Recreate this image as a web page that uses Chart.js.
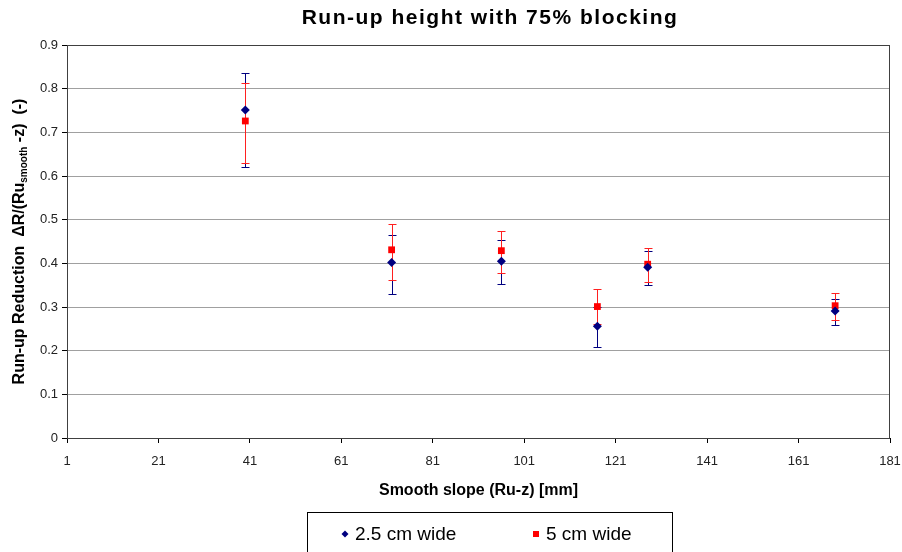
<!DOCTYPE html>
<html>
<head>
<meta charset="utf-8">
<script src="https://cdn.jsdelivr.net/npm/chart.js@4"></script>
<style>
  html, body { margin: 0; padding: 0; background: #fff; }
  #wrap { width: 902px; height: 552px; }
</style>
</head>
<body>
<div id="wrap"><canvas id="c" width="902" height="552"></canvas></div>
<script>
// ---- data ----
const titleText = "Run-up height with 75% blocking";
const xTitle = "Smooth slope (Ru-z) [mm]";
const seriesNames = ["2.5 cm wide", "5 cm wide"];
const xValues = [40, 72, 96, 117, 128, 169];
const blueY    = [0.751, 0.402, 0.405, 0.256, 0.391, 0.291];
const blueHigh = [0.835, 0.466, 0.453, 0.300, 0.428, 0.319];
const blueLow  = [0.621, 0.330, 0.353, 0.209, 0.350, 0.258];
const redY     = [0.726, 0.431, 0.429, 0.301, 0.398, 0.303];
const redHigh  = [0.812, 0.491, 0.473, 0.341, 0.435, 0.331];
const redLow   = [0.630, 0.362, 0.377, 0.261, 0.358, 0.270];
const xTicks = [1, 21, 41, 61, 81, 101, 121, 141, 161, 181];
const yTicks = [0, 0.1, 0.2, 0.3, 0.4, 0.5, 0.6, 0.7, 0.8, 0.9];
const yTickLabels = ["0", "0.1", "0.2", "0.3", "0.4", "0.5", "0.6", "0.7", "0.8", "0.9"];

const FONT = "'Liberation Sans', Arial, sans-serif";
const BLUE = "#000080";
const RED = "#ff0000";

function pts(xs, ys) { return xs.map((x, i) => ({ x: x, y: ys[i] })); }

const errorBars = {
  id: 'errorBars',
  beforeDatasetsDraw(chart) {
    const ctx = chart.ctx;
    const xs = chart.scales.x, ys = chart.scales.y;
    chart.data.datasets.forEach((ds) => {
      ctx.save();
      ctx.strokeStyle = ds.errColor;
      ctx.lineWidth = 1;
      ds.data.forEach((p, i) => {
        const px = Math.round(xs.getPixelForValue(p.x)) + 0.5;
        const yt = Math.round(ys.getPixelForValue(ds.errHigh[i])) + 0.5;
        const yb = Math.round(ys.getPixelForValue(ds.errLow[i])) + 0.5;
        ctx.beginPath();
        ctx.moveTo(px, yt); ctx.lineTo(px, yb);
        ctx.moveTo(px - 4, yt); ctx.lineTo(px + 4, yt);
        ctx.moveTo(px - 4, yb); ctx.lineTo(px + 4, yb);
        ctx.stroke();
      });
      ctx.restore();
    });
  }
};

const decor = {
  id: 'decor',
  beforeDraw(chart) {
    const ctx = chart.ctx;
    ctx.save();
    ctx.fillStyle = '#fff';
    ctx.fillRect(0, 0, chart.width, chart.height);
    ctx.restore();
  },
  afterDraw(chart) {
    const ctx = chart.ctx;
    const a = chart.chartArea;
    ctx.save();
    // plot border
    ctx.strokeStyle = '#404040';
    ctx.lineWidth = 1;
    ctx.strokeRect(Math.round(a.left) + 0.5, Math.round(a.top) + 0.5,
                   Math.round(a.right - a.left) - 1, Math.round(a.bottom - a.top));
    // title
    ctx.fillStyle = '#000';
    ctx.font = "bold 21px " + FONT;
    try { ctx.letterSpacing = '1.5px'; } catch (e) {}
    ctx.textAlign = 'center';
    ctx.textBaseline = 'middle';
    ctx.fillText(titleText, 490, 18);
    try { ctx.letterSpacing = '0px'; } catch (e) {}
    // y axis title with subscript
    const parts = [
      { t: "Run-up Reduction  \u0394R/(Ru", f: "bold 16px " + FONT, dy: 0 },
      { t: "smooth", f: "bold 10px " + FONT, dy: 4 },
      { t: " -z)  (-)", f: "bold 16px " + FONT, dy: 0 }
    ];
    let total = 0;
    parts.forEach(p => { ctx.font = p.f; p.w = ctx.measureText(p.t).width; total += p.w; });
    ctx.translate(20, (a.top + a.bottom) / 2);
    ctx.rotate(-Math.PI / 2);
    ctx.textAlign = 'left';
    ctx.textBaseline = 'middle';
    let cx = -total / 2;
    parts.forEach(p => { ctx.font = p.f; ctx.fillText(p.t, cx, p.dy); cx += p.w; });
    ctx.restore();

    // legend
    ctx.save();
    ctx.strokeStyle = '#000';
    ctx.lineWidth = 1;
    ctx.strokeRect(307.5, 512.5, 365, 60);
    ctx.font = "19px " + FONT;
    ctx.textBaseline = 'middle';
    ctx.textAlign = 'left';
    ctx.fillStyle = '#000';
    const items = [{ mx: 345, tx: 355 }, { mx: 536, tx: 546 }];
    chart.data.datasets.forEach((ds, i) => {
      const it = items[i];
      const y = 534;
      ctx.fillStyle = ds.backgroundColor;
      ctx.beginPath();
      if (ds.pointStyle === 'rectRot') {
        ctx.moveTo(it.mx, y - 3.5); ctx.lineTo(it.mx + 3.5, y);
        ctx.lineTo(it.mx, y + 3.5); ctx.lineTo(it.mx - 3.5, y);
        ctx.closePath();
      } else {
        ctx.rect(it.mx - 3, y - 3, 6, 6);
      }
      ctx.fill();
      ctx.fillStyle = '#000';
      ctx.fillText(ds.label, it.tx, y + 1);
    });
    ctx.restore();
  }
};

new Chart(document.getElementById('c'), {
  type: 'scatter',
  data: {
    datasets: [
      {
        label: seriesNames[0],
        data: pts(xValues, blueY),
        errHigh: blueHigh, errLow: blueLow, errColor: '#000080',
        pointStyle: 'rectRot', pointRadius: 4.5, pointHoverRadius: 4.5,
        backgroundColor: BLUE, borderColor: BLUE, borderWidth: 0
      },
      {
        label: seriesNames[1],
        data: pts(xValues, redY),
        errHigh: redHigh, errLow: redLow, errColor: '#ff2020',
        pointStyle: 'rect', pointRadius: 4.8, pointHoverRadius: 4.8,
        backgroundColor: RED, borderColor: RED, borderWidth: 0
      }
    ]
  },
  options: {
    responsive: false,
    animation: false,
    events: [],
    layout: { padding: { top: 45, right: 12, left: 0, bottom: 0 } },
    plugins: {
      legend: { display: false },
      title: { display: false },
      tooltip: { enabled: false }
    },
    scales: {
      x: {
        type: 'linear',
        min: 1, max: 181,
        afterFit(s) { s.height = 114; s.paddingLeft = 0; s.paddingRight = 0; },
        afterBuildTicks(s) { s.ticks = xTicks.map(v => ({ value: v })); },
        grid: { drawOnChartArea: false, drawTicks: true, tickLength: 5, tickColor: '#000' },
        border: { display: true, color: '#000' },
        ticks: { color: '#222', font: { family: FONT, size: 13 }, padding: 11,
                 callback: (v) => String(v), maxRotation: 0, autoSkip: false },
        title: { display: true, text: xTitle, color: '#000',
                 font: { family: FONT, size: 16, weight: 'bold' },
                 padding: { top: 0, bottom: 52 } }
      },
      y: {
        type: 'linear',
        min: 0, max: 0.9,
        afterFit(s) { s.width = 67; s.paddingTop = 0; s.paddingBottom = 0; },
        afterBuildTicks(s) { s.ticks = yTicks.map(v => ({ value: v })); },
        grid: { color: '#a0a0a0', drawTicks: true, tickLength: 5, tickColor: '#000' },
        border: { display: true, color: '#000' },
        ticks: { color: '#222', font: { family: FONT, size: 13 }, padding: 4,
                 callback: (v, i) => yTickLabels[i], autoSkip: false }
      }
    }
  },
  plugins: [decor, errorBars]
});
</script>
</body>
</html>
